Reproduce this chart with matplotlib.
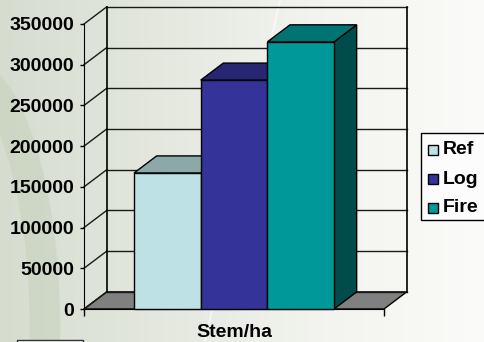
import numpy as np
import matplotlib.pyplot as plt
from matplotlib.patches import Polygon, Rectangle, Ellipse
from matplotlib.colors import LinearSegmentedColormap

# Chart data
series = ['Ref', 'Log', 'Fire']
values = [167000, 281000, 328000]
category = 'Stem/ha'
yticks = [0, 50000, 100000, 150000, 200000, 250000, 300000, 350000]

front_colors = ['#bde1e4', '#333399', '#009999']
top_colors = ['#8ca8a8', '#262673', '#007373']
side_colors = ['#7d9a9c', '#1e1e5c', '#004c4c']

plt.rcParams['font.family'] = ['Liberation Sans', 'DejaVu Sans']
plt.rcParams['font.weight'] = 'bold'

fig = plt.figure(figsize=(4.85, 3.42), dpi=100)

# Background: soft green-grey to white gradient
bg = fig.add_axes([0, 0, 1, 1])
bg.set_xlim(0, 485)
bg.set_ylim(342, 0)
bg.axis('off')
grad = np.linspace(0, 1, 256).reshape(1, -1)
cmap = LinearSegmentedColormap.from_list('bg', ['#d6ddcf', '#e4e8df', '#f3f4ef', '#fbfbf9'])
bg.imshow(grad, cmap=cmap, aspect='auto', extent=[0, 485, 342, 0], zorder=0)
bg.add_patch(Ellipse((-40, 330), 170, 520, fill=False, edgecolor='#bccaae', lw=22, alpha=0.35, zorder=1))
bg.plot([205, 280], [342, 0], color='white', lw=1.5, alpha=0.6, zorder=1)

# Main axes: front plane of the 3D box
ax = fig.add_axes([84 / 485, 33 / 342, 300 / 485, 285 / 342])
ax.patch.set_visible(False)
x0, x1 = -0.75, 3.75
ymax = 350000
ax.set_xlim(x0, x1)
ax.set_ylim(0, ymax)
dx, dy = 0.34, 21000

for s in ['top', 'right']:
    ax.spines[s].set_visible(False)
ax.spines['left'].set_color('black')
ax.spines['bottom'].set_color('black')

# floor
ax.add_patch(Polygon([(x0, 0), (x1, 0), (x1 + dx, dy), (x0 + dx, dy)], closed=True,
                     facecolor='#808080', edgecolor='black', lw=1, clip_on=False, zorder=1))

# back wall gridlines and side wall lines
for v in yticks:
    ax.plot([x0 + dx, x1 + dx], [v + dy, v + dy], color='#1a1a1a', lw=1, clip_on=False, zorder=1)
    ax.plot([x0, x0 + dx], [v, v + dy], color='#1a1a1a', lw=1, clip_on=False, zorder=1)
ax.plot([x0 + dx, x0 + dx], [dy, ymax + dy], color='black', lw=1.2, clip_on=False, zorder=1)
ax.plot([x1 + dx, x1 + dx], [dy, ymax + dy], color='black', lw=1.2, clip_on=False, zorder=1)

# 3D bars
for i, val in enumerate(values):
    z = 3 + 3 * i
    ax.add_patch(Polygon([(i + 1, 0), (i + 1 + dx, dy), (i + 1 + dx, val + dy), (i + 1, val)],
                         closed=True, facecolor=side_colors[i], edgecolor='black', lw=1,
                         clip_on=False, zorder=z))
    ax.add_patch(Polygon([(i, val), (i + 1, val), (i + 1 + dx, val + dy), (i + dx, val + dy)],
                         closed=True, facecolor=top_colors[i], edgecolor='black', lw=1,
                         clip_on=False, zorder=z + 1))
    ax.bar(i, val, width=1, align='edge', color=front_colors[i], edgecolor='black',
           lw=1, zorder=z + 2, clip_on=False)

ax.set_yticks(yticks)
ax.set_yticklabels([str(v) for v in yticks], fontsize=14, fontweight='bold')
ax.tick_params(axis='y', direction='out', length=3, width=1, pad=4)
ax.set_xticks([x0, x1])
ax.set_xticklabels(['', ''])
ax.tick_params(axis='x', direction='out', length=5, width=1)
ax.set_xlabel(category, fontsize=14, fontweight='bold', labelpad=2)

# Legend and decorations in pixel coordinates
ov = fig.add_axes([0, 0, 1, 1])
ov.set_xlim(0, 485)
ov.set_ylim(342, 0)
ov.axis('off')
ov.patch.set_visible(False)
ov.add_patch(Rectangle((421, 133), 80, 87, facecolor='#fcfcfc', edgecolor='black', lw=1))
for k, name in enumerate(series):
    yc = 150 + 29 * k
    ov.add_patch(Rectangle((428, yc - 5), 10, 10, facecolor=front_colors[k], edgecolor='black', lw=1))
    ov.text(443, yc, name, fontsize=14, fontweight='bold', va='center', ha='left')
ov.add_patch(Rectangle((17, 340), 66, 10, facecolor='white', edgecolor='#333333', lw=1))

fig.savefig('out.png', dpi=100)
